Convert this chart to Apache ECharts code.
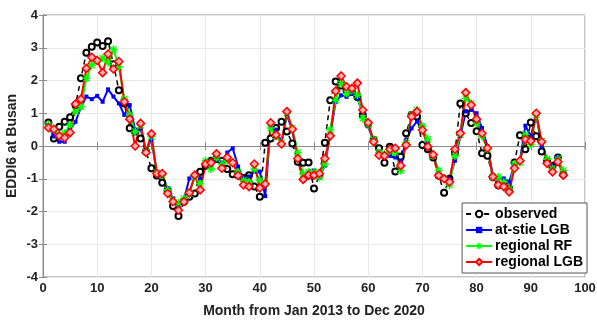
<!DOCTYPE html>
<html>
<head>
<meta charset="utf-8">
<script src="https://cdn.jsdelivr.net/npm/echarts@6/dist/echarts.min.js"></script>
<style>
html, body {margin:0; padding:0; background:#fff;}
#chart {width:597px; height:324px;}
</style>
</head>
<body>
<div id="chart"></div>
<script>
// months 1..96 (Jan 2013 - Dec 2020)
var observed = [0.72,0.23,0.59,0.74,0.88,1.25,2.07,2.85,3.03,3.16,3.05,3.2,2.5,1.7,1.3,0.54,0.44,0.23,-0.17,-0.68,
    -0.9,-1.12,-1.35,-1.83,-2.14,-1.7,-1.55,-1.45,-0.79,-0.6,-0.45,-0.4,-0.45,-0.7,-0.86,-0.89,-0.98,-0.89,-1.24,-1.55,
    0.1,0.23,0.55,0.74,0.44,0.08,-0.48,-0.51,-0.5,-1.3,-0.9,0.1,1.4,1.97,1.85,1.7,1.65,1.5,0.95,0.67,
    0.18,-0.07,-0.51,-0.02,-0.78,-0.33,0.39,0.95,0.9,0.03,-0.1,-0.35,-0.9,-1.43,-1.0,-0.2,1.3,1.0,0.7,0.45,
    -0.22,-0.3,-0.95,-1.2,-1.2,-1.3,-0.5,0.33,-0.1,0.72,0.3,-0.17,-0.45,-0.6,-0.35,-0.87];
var atSiteLGB = [0.64,0.29,0.13,0.13,0.49,0.74,1.18,1.51,1.43,1.53,1.35,1.73,1.51,1.3,0.95,1.25,0.49,0.54,-0.17,0.2,
    -0.84,-0.94,-1.29,-1.6,-1.85,-1.65,-0.99,-0.9,-1.0,-0.55,-0.62,-0.43,-0.5,-0.2,-0.07,-0.63,-0.98,-0.93,-0.78,-0.78,
    -1.53,0.6,0.5,0.12,0.95,0.47,-0.4,-1.04,-0.96,-0.75,-0.95,-0.6,0.35,1.35,1.55,1.5,1.6,1.45,1.0,0.6,
    0.15,-0.2,-0.3,-0.3,-0.35,-0.45,0.18,0.54,0.75,0.6,0.1,-0.25,-0.8,-0.95,-1.0,-0.45,0.3,1.05,1.1,1.0,
    0.55,0.0,-0.9,-0.99,-0.99,-1.09,-0.58,-0.43,0.62,0.3,0.95,-0.02,-0.41,-0.61,-0.33,-0.84];
var regionalRF = [0.64,0.49,0.34,0.39,0.64,1.05,1.2,2.07,2.47,2.63,2.68,2.55,2.95,2.42,1.43,0.95,0.44,0.64,-0.17,0.29,
    -0.81,-0.89,-1.34,-1.65,-1.75,-1.6,-1.45,-0.95,-1.15,-0.45,-0.7,-0.35,-0.55,-0.45,-0.5,-0.8,-1.05,-1.1,-0.7,-1.05,
    -1.15,0.55,0.3,0.1,1.0,0.55,-0.2,-0.85,-0.8,-0.8,-0.95,-0.55,0.5,1.4,1.9,1.6,1.7,1.55,0.85,0.65,
    0.2,-0.2,-0.25,-0.15,-0.2,-0.75,0.1,0.95,1.1,0.6,0.2,-0.3,-0.75,-1.0,-1.19,-0.3,0.35,1.45,1.3,0.7,
    0.3,-0.1,-0.95,-0.95,-1.1,-1.3,-0.55,-0.5,0.35,0.05,0.95,0.15,-0.4,-0.7,-0.4,-0.75];
var regionalLGB = [0.56,0.51,0.31,0.25,0.41,1.28,1.43,2.37,2.71,2.61,2.24,2.81,2.35,2.58,1.35,0.82,0.0,0.69,-0.2,0.37,
    -0.84,-0.84,-1.45,-1.7,-1.96,-1.7,-1.43,-0.89,-1.34,-0.55,-0.51,-0.24,-0.68,-0.35,-0.51,-0.9,-1.19,-1.24,-0.55,-1.28,
    -1.16,0.71,0.34,0.06,1.05,0.51,-0.38,-1.02,-0.89,-0.89,-0.84,-0.38,0.31,1.68,2.14,1.81,1.76,1.92,1.1,0.71,
    0.13,-0.28,-0.3,-0.1,-0.07,-0.6,0.03,0.9,1.05,0.49,-0.02,-0.27,-0.9,-1.0,-1.1,-0.1,0.39,1.63,1.25,0.82,
    0.39,-0.07,-0.94,-1.19,-1.24,-1.4,-0.68,-0.45,0.2,0.15,1.0,0.13,-0.53,-0.79,-0.48,-0.89];
var seriesNames = ['observed', 'at-stie LGB', 'regional RF', 'regional LGB'];
var xTicks = [0, 10, 20, 30, 40, 50, 60, 70, 80, 90, 100];
var yTicks = [-4, -3, -2, -1, 0, 1, 2, 3, 4];

function pairs(vals) {
    return vals.map(function (v, i) { return [i + 1, v]; });
}

var starPath = 'path://M4,0L6,0L6,10L4,10Z M0,4L10,4L10,6L0,6Z M1.5,0.5L9.5,8.5L8.5,9.5L0.5,1.5Z M8.5,0.5L9.5,1.5L1.5,9.5L0.5,8.5Z';
var font = 'Liberation Sans';

var myChart = echarts.init(document.getElementById('chart'));
var option = {
    animation: false,
    textStyle: {fontFamily: font},
    grid: {left: 43, right: 12, top: 15, bottom: 47, outerBoundsMode: 'none', containLabel: false,
        show: true, borderColor: '#8c8c8c', borderWidth: 1},
    legend: {
        data: seriesNames,
        orient: 'vertical',
        right: 10,
        bottom: 51,
        itemGap: 2,
        itemWidth: 26,
        itemHeight: 8,
        padding: [4, 4, 4, 3],
        backgroundColor: '#fff',
        borderColor: '#555',
        borderWidth: 1,
        borderRadius: 0,
        textStyle: {fontFamily: font, fontSize: 14, fontWeight: 'bold', color: '#000', padding: [0, 0, 0, -2]}
    },
    xAxis: [{
        type: 'value',
        min: xTicks[0],
        max: xTicks[xTicks.length - 1],
        interval: 10,
        name: 'Month from Jan 2013 to Dec 2020',
        nameLocation: 'middle',
        nameGap: 27,
        nameTextStyle: {fontFamily: font, fontSize: 14, fontWeight: 'bold', color: '#222'},
        axisLine: {lineStyle: {color: '#8c8c8c'}},
        axisTick: {inside: true, length: 4, lineStyle: {color: '#8c8c8c'}},
        axisLabel: {fontFamily: font, fontSize: 13, fontWeight: 'bold', color: '#222', margin: 5},
        splitLine: {show: true, lineStyle: {color: '#e8e8e8'}}
    }, {
        type: 'value',
        position: 'top',
        min: xTicks[0],
        max: xTicks[xTicks.length - 1],
        interval: 10,
        axisLine: {lineStyle: {color: '#8c8c8c'}},
        axisTick: {inside: true, length: 4, lineStyle: {color: '#8c8c8c'}},
        axisLabel: {show: false},
        splitLine: {show: false}
    }],
    yAxis: [{
        type: 'value',
        min: yTicks[0],
        max: yTicks[yTicks.length - 1],
        interval: 1,
        name: 'EDDI6 at Busan',
        nameLocation: 'middle',
        nameGap: 24,
        nameMoveOverlap: false,
        nameTextStyle: {fontFamily: font, fontSize: 14, fontWeight: 'bold', color: '#222'},
        axisLine: {show: true, lineStyle: {color: '#8c8c8c'}},
        axisTick: {show: true, inside: true, length: 4, lineStyle: {color: '#8c8c8c'}},
        axisLabel: {fontFamily: font, fontSize: 13, fontWeight: 'bold', color: '#222', margin: 5},
        splitLine: {show: true, lineStyle: {color: '#e8e8e8'}}
    }, {
        type: 'value',
        position: 'right',
        min: yTicks[0],
        max: yTicks[yTicks.length - 1],
        interval: 1,
        axisLine: {show: true, lineStyle: {color: '#8c8c8c'}},
        axisTick: {show: true, inside: true, length: 4, lineStyle: {color: '#8c8c8c'}},
        axisLabel: {show: false},
        splitLine: {show: false}
    }],
    series: [{
        name: seriesNames[0],
        type: 'line',
        data: pairs(observed),
        symbol: 'emptyCircle',
        symbolSize: 6,
        itemStyle: {color: '#000', borderWidth: 1.3},
        lineStyle: {color: '#000', width: 1.5, type: [5, 4]}
    }, {
        name: seriesNames[1],
        type: 'line',
        data: pairs(atSiteLGB),
        symbol: 'rect',
        symbolSize: 4,
        itemStyle: {color: '#0000ff'},
        lineStyle: {color: '#0000ff', width: 2}
    }, {
        name: seriesNames[2],
        type: 'line',
        data: pairs(regionalRF),
        symbol: starPath,
        symbolSize: 8,
        itemStyle: {color: '#00ff00'},
        lineStyle: {color: '#00ff00', width: 2}
    }, {
        name: seriesNames[3],
        type: 'line',
        data: pairs(regionalLGB),
        symbol: 'diamond',
        symbolSize: 8,
        itemStyle: {color: '#ffb0b0', borderColor: '#ff0000', borderWidth: 1.5},
        lineStyle: {color: '#ff0000', width: 2}
    }]
};
myChart.setOption(option);
</script>
</body>
</html>
